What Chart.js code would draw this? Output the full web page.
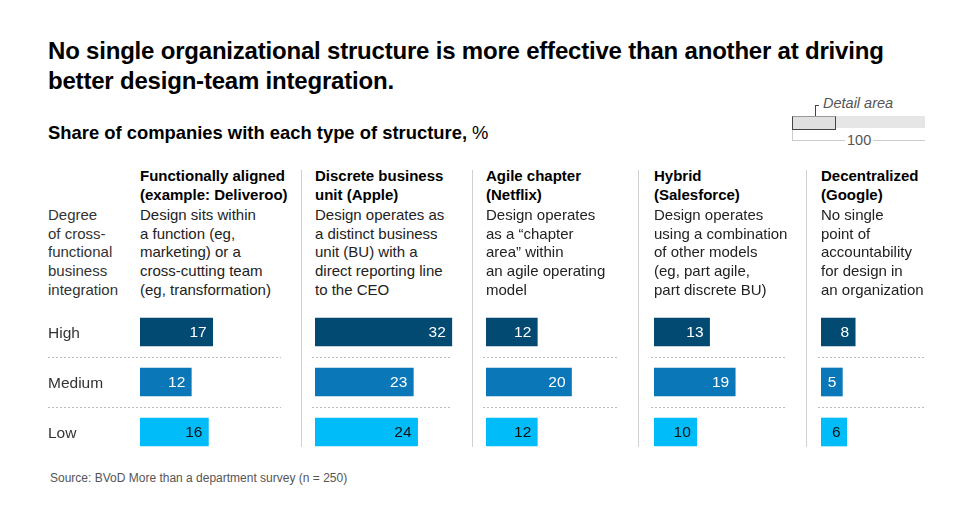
<!DOCTYPE html>
<html>
<head>
<meta charset="utf-8">
<script src="https://cdn.jsdelivr.net/npm/chart.js@4.4.0/dist/chart.umd.min.js"></script>
<style>
  body { margin: 0; background: #fff; font-family: "Liberation Sans", Arial, sans-serif; color: #000; }
  #wrap { position: relative; width: 925px; height: 524px; overflow: hidden; }
  .abs { position: absolute; }
  #title { left: 48px; top: 36px; font-size: 24px; font-weight: bold; line-height: 30px; letter-spacing: -0.2px; }
  #subtitle { left: 48px; top: 122px; font-size: 18.4px; font-weight: bold; }
  #subtitle span { font-weight: normal; }
  .head { top: 166px; font-size: 15px; font-weight: bold; line-height: 19px; white-space: nowrap; }
  .desc { top: 206px; font-size: 15px; line-height: 18.7px; color: #222; white-space: nowrap; }
  .divider { top: 170px; width: 1px; height: 277px; background: #d0d0d0; }
  #source { left: 50px; top: 471px; font-size: 12px; color: #555; }
  canvas { position: absolute; top: 307px; }
</style>
</head>
<body>
<div id="wrap">
  <div id="title" class="abs">No single organizational structure is more effective than another at driving<br>better design-team integration.</div>
  <div id="subtitle" class="abs">Share of companies with each type of structure, <span>%</span></div>

  <!-- detail area marker, top right -->
  <div class="abs" style="left:792px;top:116px;width:140px;height:12px;background:#e6e6e6"></div>
  <div class="abs" style="left:792px;top:116px;width:42px;height:12px;background:#e0e0e0;border:1px solid #444;border-top-color:#999"></div>
  <div class="abs" style="left:815px;top:105px;width:1px;height:11px;background:#444"></div>
  <div class="abs" style="left:815px;top:105px;width:4px;height:1px;background:#444"></div>
  <div class="abs" style="left:823px;top:95px;font-size:14.5px;font-style:italic;color:#555">Detail area</div>
  <div class="abs" style="left:792px;top:130px;width:1px;height:10px;background:#ccc"></div>
  <div class="abs" style="left:792px;top:140px;width:53px;height:1px;background:#ccc"></div>
  <div class="abs" style="left:873px;top:140px;width:60px;height:1px;background:#ccc"></div>
  <div class="abs" style="left:847px;top:132px;font-size:14.5px;color:#555">100</div>

  <div class="abs desc" style="left:48px;color:#333">Degree<br>of cross-<br>functional<br>business<br>integration</div>
  <div id="source" class="abs">Source: BVoD More than a department survey (n = 250)</div>
</div>

<script>
// categories
var structures = ["Functionally aligned<br>(example: Deliveroo)", "Discrete business<br>unit (Apple)", "Agile chapter<br>(Netflix)", "Hybrid<br>(Salesforce)", "Decentralized<br>(Google)"];
var descriptions = [
  "Design sits within<br>a function (eg,<br>marketing) or a<br>cross-cutting team<br>(eg, transformation)",
  "Design operates as<br>a distinct business<br>unit (BU) with a<br>direct reporting line<br>to the CEO",
  "Design operates<br>as a \u201cchapter<br>area\u201d within<br>an agile operating<br>model",
  "Design operates<br>using a combination<br>of other models<br>(eg, part agile,<br>part discrete BU)",
  "No single<br>point of<br>accountability<br>for design in<br>an organization"
];
var levels = ["High", "Medium", "Low"];

// share of companies, %
var high = [17, 32, 12, 13, 8];
var medium = [12, 23, 20, 19, 5];
var low = [16, 24, 12, 10, 6];

// layout
var panelLeft = [140, 315, 486, 654, 821];
var dividerX = [301, 472, 638, 806];
var barColors = ["#024a72", "#0a78b8", "#00bcf8"];
var labelColors = ["#fff", "#fff", "#111"];

var wrap = document.getElementById("wrap");

dividerX.forEach(function (x) {
    var d = document.createElement("div");
    d.className = "abs divider";
    d.style.left = x + "px";
    wrap.appendChild(d);
});

var valueLabels = {
    id: "valueLabels",
    beforeDatasetsDraw: function (chart, args, opts) {
        var ctx = chart.ctx, y = chart.scales.y;
        ctx.save();
        ctx.strokeStyle = "#bdbdbd";
        ctx.lineWidth = 1;
        ctx.setLineDash([2, 2]);
        for (var k = 0; k < levels.length - 1; k++) {
            var yy = Math.round((y.getPixelForValue(k) + y.getPixelForValue(k + 1)) / 2) + 0.5;
            ctx.beginPath();
            ctx.moveTo(opts.lineFrom, yy);
            ctx.lineTo(opts.lineTo, yy);
            ctx.stroke();
        }
        ctx.restore();
    },
    afterDatasetsDraw: function (chart) {
        var ctx = chart.ctx;
        var meta = chart.getDatasetMeta(0);
        ctx.save();
        ctx.font = "15.5px 'Liberation Sans', Arial, sans-serif";
        ctx.textAlign = "right";
        ctx.textBaseline = "middle";
        meta.data.forEach(function (bar, k) {
            ctx.fillStyle = labelColors[k];
            ctx.fillText(chart.data.datasets[0].data[k], bar.x - 6, bar.y + 1);
        });
        ctx.restore();
    }
};

structures.forEach(function (name, i) {
    var h = document.createElement("div");
    h.className = "abs head";
    h.style.left = panelLeft[i] + "px";
    h.innerHTML = name;
    wrap.appendChild(h);

    var d = document.createElement("div");
    d.className = "abs desc";
    d.style.left = panelLeft[i] + "px";
    d.innerHTML = descriptions[i];
    wrap.appendChild(d);

    var first = i === 0;
    var left = first ? 48 : panelLeft[i] - 4;
    var right = panelLeft[i] + 171;
    var canvas = document.createElement("canvas");
    canvas.width = right - left;
    canvas.height = 150;
    canvas.style.left = left + "px";
    wrap.appendChild(canvas);

    var lineEnd = (i < dividerX.length ? dividerX[i] - 20 : 925) - left;

    new Chart(canvas, {
        type: "bar",
        data: {
            labels: levels,
            datasets: [{
                data: [high[i], medium[i], low[i]],
                backgroundColor: barColors,
                barThickness: 28
            }]
        },
        options: {
            indexAxis: "y",
            responsive: false,
            animation: false,
            layout: { padding: { left: first ? 0 : 4, right: 0, top: 0, bottom: 0 } },
            plugins: {
                legend: { display: false },
                tooltip: { enabled: false },
                valueLabels: { lineFrom: first ? 0 : 1, lineTo: lineEnd }
            },
            scales: {
                x: { display: false, min: 0, max: 40 },
                y: {
                    display: first,
                    grid: { display: false },
                    border: { display: false },
                    ticks: {
                        crossAlign: "far",
                        padding: 0,
                        labelOffset: 1.5,
                        color: "#333",
                        font: { size: 15.5, family: "'Liberation Sans', Arial, sans-serif" }
                    },
                    afterFit: function (scale) {
                        if (!first) return;
                        scale.width = 92;
                        scale.paddingTop = 0;
                        scale.paddingBottom = 0;
                    }
                }
            }
        },
        plugins: [valueLabels]
    });
});
</script>
</body>
</html>
